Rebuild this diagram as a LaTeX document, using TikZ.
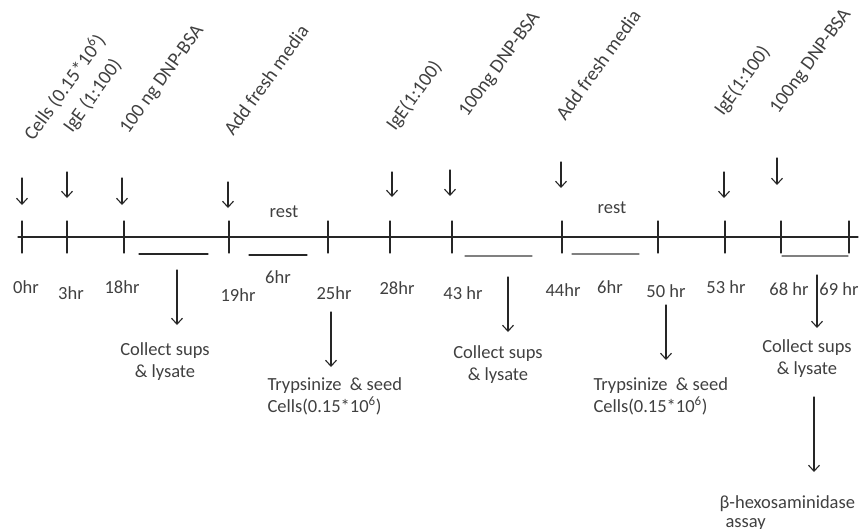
\documentclass[tikz,border=0pt]{standalone}
\usepackage{fontspec}
\setmainfont{Carlito}
\usetikzlibrary{arrows.meta}

\begin{document}
\def\yline{237}
\def\tick{16}

\begin{tikzpicture}[x=1pt, y=-1pt,
                    >={Straight Barb[length=6pt,width=11pt]}, line cap=round,
                    line width=1.1pt, draw=black!85,
                    txt/.style={text=black!75, inner sep=0pt,
                                font=\fontsize{18.5}{22}\selectfont},
                    vert/.style={txt, rotate=54, anchor=base west,
                                 font=\fontsize{19.5}{22}\selectfont}
                   ]
\useasboundingbox (0,0) rectangle (862,528);

%time line
\coordinate (L0) at (18,\yline);
\coordinate (L1) at (858,\yline);
\draw (L0) -- (L1);

%ticks and hours
\foreach \x/\lx/\ly/\lab [count=\i] in {22/26/287/0hr, 67/71/293/3hr,
        124/122/287/18hr, 229/238/295/19hr, 328/334/293/25hr,
        390/397/288/28hr, 452/463/293/43 hr, 562/563/290/44hr,
        658/666/291/50 hr, 725/726/287/53 hr, 781/789/289/68 hr,
        849/839/289/69 hr}{
    \coordinate (ta\i) at (\x,\yline-\tick);
    \coordinate (tb\i) at (\x,\yline+\tick);
    \draw (ta\i) -- (tb\i);
    \node [txt] (hr\i) at (\lx,\ly) {\lab};
  }
\node [txt] (six1) at (278,277) {6hr};
\node [txt] (six2) at (610,287) {6hr};

%bars under the line
\foreach \xa/\xb/\y/\c [count=\i] in {139/208/254/black!85, 249/307/255/black!85,
        465/532/256/gray, 572/639/254/gray, 782/848/256/gray}{
    \coordinate (ba\i) at (\xa,\y);
    \coordinate (bb\i) at (\xb,\y);
    \draw [\c] (ba\i) -- (bb\i);
  }
\node [txt] (rest1) at (284,212) {rest};
\node [txt] (rest2) at (612,208) {rest};

%additions on top
\foreach \x/\ya/\yb [count=\i] in {22/178/205, 67/172/198, 122/178/205,
        228/182/208, 392/172/197, 450/170/196, 561/162/188,
        724/172/198, 777/158/185}{
    \coordinate (da\i) at (\x,\ya);
    \coordinate (db\i) at (\x,\yb);
    \draw [->] (da\i) -- (db\i);
  }
\foreach \x/\y/\lab [count=\i] in {33/142/{Cells (0.15*10\textsuperscript{6})},
        72/134/{IgE (1:100)}, 128/135/{100 ng DNP-BSA},
        233/137/{Add fresh media}, 395/132/{IgE(1:100)},
        467/118/{100ng DNP-BSA}, 565/122/{Add fresh media},
        723/117/{IgE(1:100)}, 778/115/{100ng DNP-BSA}}{
    \node [vert] (add\i) at (\x,\y) {\lab};
  }

%steps below
\foreach \x/\ya/\yb [count=\i] in {177/270/325, 331/312/367, 508/277/332,
        666/305/360, 817/275/328}{
    \coordinate (sa\i) at (\x,\ya);
    \coordinate (sb\i) at (\x,\yb);
    \draw [->] (sa\i) -- (sb\i);
  }
\node [txt, align=center] (col1) at (165,362) {Collect sups\\\& lysate};
\node [txt, align=center] (col2) at (498,365) {Collect sups\\\& lysate};
\node [txt, align=center] (col3) at (807,359) {Collect sups\\\& lysate};
\node [txt, align=left, anchor=west] (try1) at (267,396)
      {Trypsinize \ \& seed\\Cells(0.15*10\textsuperscript{6})};
\node [txt, align=left, anchor=west] (try2) at (593,396)
      {Trypsinize \ \& seed\\Cells(0.15*10\textsuperscript{6})};

%assay
\coordinate (ea) at (814,397);
\coordinate (eb) at (814,472);
\draw [->] (ea) -- (eb);
\node [txt, anchor=base west] (hex1) at (719,508) {β-hexosaminidase};
\node [txt, anchor=base west] (hex2) at (725,527) {assay};
\end{tikzpicture}
\end{document}
